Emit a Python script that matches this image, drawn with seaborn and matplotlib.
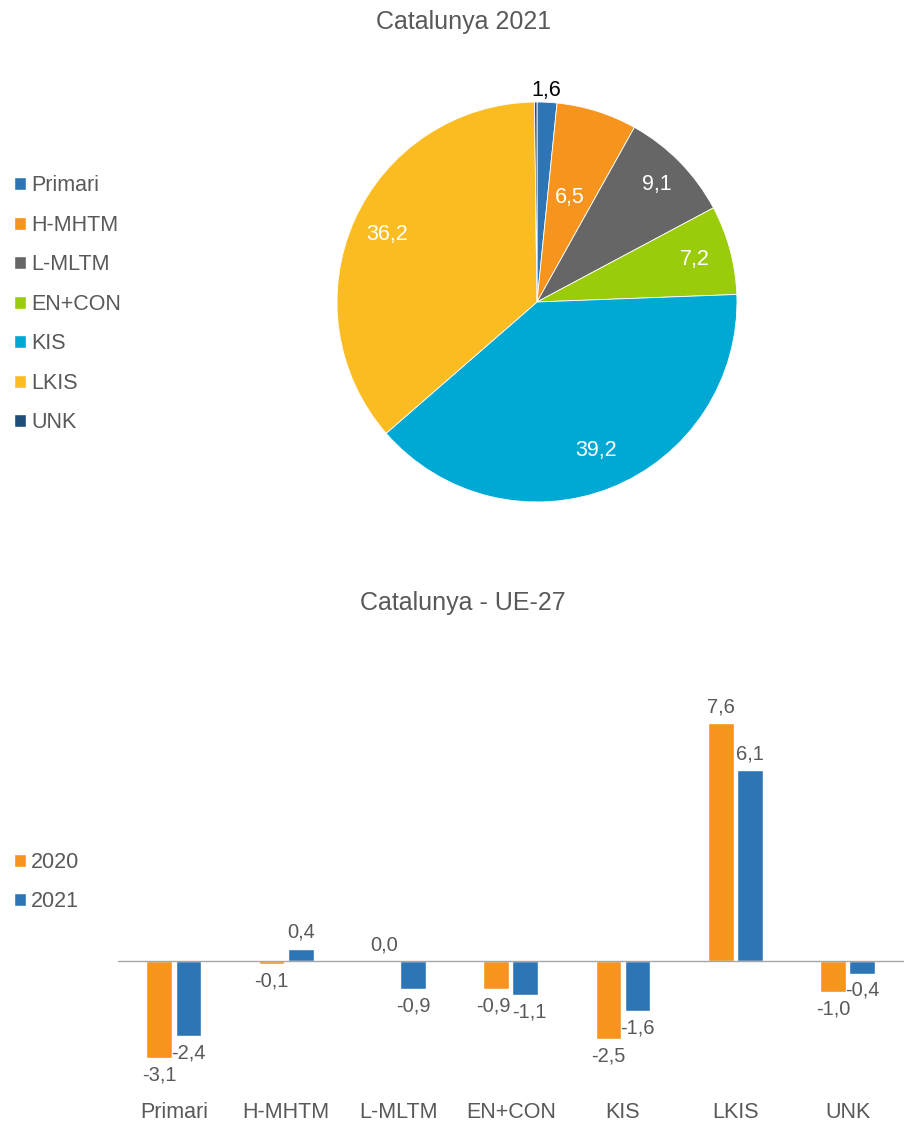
import numpy as np
import pandas as pd
import matplotlib
import matplotlib.pyplot as plt
import seaborn as sns
from matplotlib.patches import Patch

matplotlib.use('Agg')

sectors = ['Primari', 'H-MHTM', 'L-MLTM', 'EN+CON', 'KIS', 'LKIS', 'UNK']
share_2021 = [1.6, 6.5, 9.1, 7.2, 39.2, 36.2, 0.2]
sector_colors = ['#2E75B6', '#F7941D', '#666666', '#9ACC0B', '#00A9D4', '#FBBC22', '#1F4E79']

diff_2020 = [-3.1, -0.1, 0.0, -0.9, -2.5, 7.6, -1.0]
diff_2021 = [-2.4, 0.4, -0.9, -1.1, -1.6, 6.1, -0.4]
years = ['2020', '2021']
year_colors = ['#F7941D', '#2E75B6']

sns.set_theme(style='white')
plt.rcParams['font.family'] = ['Liberation Sans', 'DejaVu Sans']
txt = '#595959'
fs = 15.5

fig = plt.figure(figsize=(9.12, 11.21), dpi=100)

# pie
ax1 = fig.add_axes([0.3695, 0.5522, 0.4386, 0.3568])
wedges, _ = ax1.pie(share_2021, colors=sector_colors, startangle=90, counterclock=False,
                    wedgeprops=dict(edgecolor='white', linewidth=0.6))
ax1.set_xlim(-1, 1)
ax1.set_ylim(-1, 1)
ax1.set_aspect('equal')
dists = [1.06, 0.55, 0.84, 0.82, 0.8, 0.82, None]
for w, v, d in zip(wedges, share_2021, dists):
    if d is None:
        continue
    ang = np.deg2rad((w.theta1 + w.theta2) / 2)
    x, y = d * np.cos(ang), d * np.sin(ang)
    col = 'black' if d > 1 else 'white'
    if d > 1:
        x = 0.045
    ax1.text(x, y, f'{v:.1f}'.replace('.', ','), ha='center', va='center',
             color=col, fontsize=fs, clip_on=False)
fig.text(0.508, 0.980, 'Catalunya 2021', ha='center', va='center', fontsize=18, color=txt)
handles = [Patch(facecolor=c) for c in sector_colors]
fig.legend(handles, sectors, loc='upper left', bbox_to_anchor=(-0.006, 0.861), frameon=False,
           fontsize=fs, labelcolor=txt, handlelength=0.55, handleheight=0.55,
           handletextpad=0.25, labelspacing=0.86)

# bars
df = pd.DataFrame({'sector': sectors * 2,
                   'year': ['2020'] * len(sectors) + ['2021'] * len(sectors),
                   'value': diff_2020 + diff_2021})
ax2 = fig.add_axes([0.129, 0.031, 0.862, 0.335])
sns.barplot(data=df, x='sector', y='value', hue='year', palette=year_colors,
            width=0.52, gap=0.12, saturation=1, ax=ax2, legend=False)
ax2.set_ylim(-4, 8)
ax2.axhline(0, color='#A6A6A6', linewidth=1)
shift = [-2, 3]
for k, cont in enumerate(ax2.containers):
    anns = ax2.bar_label(cont, labels=[f'{b.get_height():.1f}'.replace('.', ',') for b in cont],
                         padding=5, fontsize=14.5, color=txt)
    # EN+CON labels sit side by side, nudge them apart
    i = sectors.index('EN+CON')
    dx, dy = anns[i].xyann
    anns[i].xyann = (dx + shift[k], dy)
for s in ax2.spines.values():
    s.set_visible(False)
ax2.set_yticks([])
ax2.set_xlabel('')
ax2.set_ylabel('')
ax2.tick_params(axis='x', labelsize=fs, labelcolor=txt, length=0, pad=11)
fig.text(0.508, 0.462, 'Catalunya - UE-27', ha='center', va='center', fontsize=18, color=txt)
handles2 = [Patch(facecolor=c) for c in year_colors]
fig.legend(handles2, years, loc='upper left', bbox_to_anchor=(-0.006, 0.2575), frameon=False,
           fontsize=fs, labelcolor=txt, handlelength=0.55, handleheight=0.55,
           handletextpad=0.25, labelspacing=0.86)

fig.savefig('out.png', dpi=100)
plt.close()
